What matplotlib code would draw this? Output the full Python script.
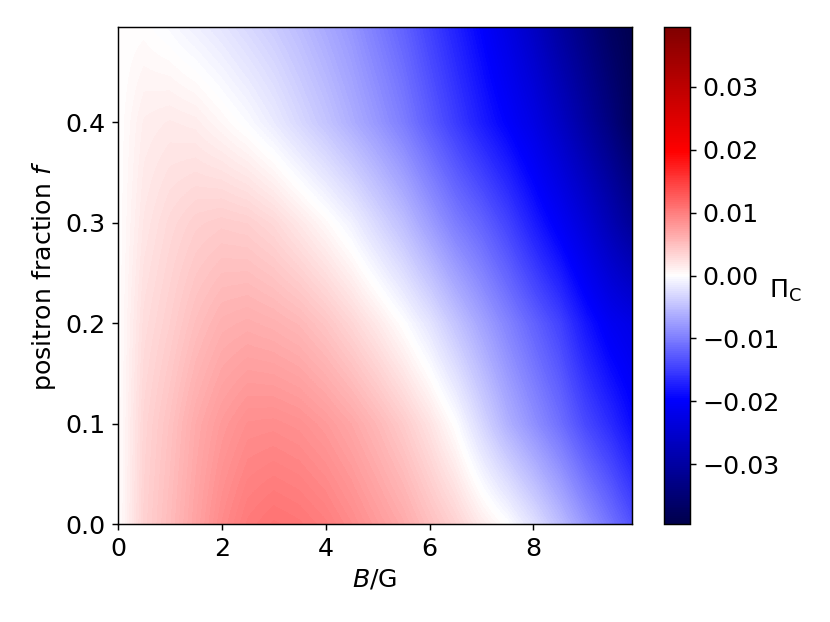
import numpy as np
import matplotlib
matplotlib.use("Agg")
import matplotlib.pyplot as plt

# magnetic field B (G), grid columns (uniform)
B_values = [0.0, 0.5, 1.0, 1.5, 2.0, 2.5, 3.0, 3.5, 4.0, 4.5, 5.0,
            5.5, 6.0, 6.5, 7.0, 7.5, 8.0, 8.5, 9.0, 9.5, 10.0]
# positron fraction f, grid rows (uniform)
f_values = [0.0, 0.1, 0.2, 0.3, 0.4, 0.5]

# circular polarisation Pi_C (rows follow f_values)
Pi_f000 = [0.0, 0.0035, 0.0052, 0.0071, 0.0090, 0.0103, 0.0109, 0.0106, 0.0100, 0.0090, 0.0078,
           0.0066, 0.0050, 0.0035, 0.0016, 0.0, -0.0023, -0.0050, -0.0080, -0.0109, -0.0140]
Pi_f010 = [0.0, 0.0032, 0.0047, 0.0065, 0.0078, 0.0087, 0.0088, 0.0085, 0.0078, 0.0068, 0.0055,
           0.0040, 0.0022, 0.0, -0.0030, -0.0060, -0.0085, -0.0110, -0.0140, -0.0165, -0.0195]
Pi_f020 = [0.0, 0.0026, 0.0037, 0.0050, 0.0060, 0.0063, 0.0060, 0.0055, 0.0045, 0.0032, 0.0017,
           0.0, -0.0020, -0.0045, -0.0070, -0.0095, -0.0120, -0.0145, -0.0180, -0.0210, -0.0228]
Pi_f030 = [0.0, 0.0019, 0.0029, 0.0036, 0.0039, 0.0037, 0.0030, 0.0018, 0.0005, -0.0010, -0.0030,
           -0.0050, -0.0075, -0.0100, -0.0120, -0.0145, -0.0175, -0.0205, -0.0240, -0.0280, -0.0320]
Pi_f040 = [0.0, 0.0013, 0.0016, 0.0014, 0.0006, -0.0003, -0.0015, -0.0030, -0.0045, -0.0062, -0.0080,
           -0.0100, -0.0125, -0.0150, -0.0175, -0.0198, -0.0225, -0.0260, -0.0300, -0.0340, -0.0385]
Pi_f050 = [0.0, 0.0001, -0.0005, -0.0013, -0.0021, -0.0031, -0.0041, -0.0053, -0.0067, -0.0082, -0.0102,
           -0.0122, -0.0147, -0.0172, -0.0198, -0.0228, -0.0263, -0.0303, -0.0338, -0.0373, -0.0395]

x_ticks = [0, 2, 4, 6, 8]
y_ticks = [0.0, 0.1, 0.2, 0.3, 0.4]
cb_ticks = [-0.03, -0.02, -0.01, 0.00, 0.01, 0.02, 0.03]
cb_ticklabels = ['\u22120.03', '\u22120.02', '\u22120.01', '0.00', '0.01', '0.02', '0.03']
x_max, y_max = 9.9, 0.495

Pi = np.array([Pi_f000, Pi_f010, Pi_f020, Pi_f030, Pi_f040, Pi_f050])
lim = np.abs(Pi).max()
dB = B_values[1] - B_values[0]
df = f_values[1] - f_values[0]

plt.rcParams['font.size'] = 14
fig = plt.figure(figsize=(830 / 130, 622 / 130), dpi=130)
ax = fig.add_axes([118 / 830, 98 / 622, 514 / 830, 497 / 622])
cax = fig.add_axes([664 / 830, 98 / 622, 26 / 830, 497 / 622])

im = ax.imshow(Pi, origin='lower', cmap='seismic', vmin=-lim, vmax=lim,
               interpolation='bilinear', interpolation_stage='data', aspect='auto',
               extent=[B_values[0] - dB / 2, B_values[-1] + dB / 2,
                       f_values[0] - df / 2, f_values[-1] + df / 2])
ax.set_xlim(0, x_max)
ax.set_ylim(0, y_max)
ax.set_xticks(x_ticks)
ax.set_yticks(y_ticks)
ax.set_xlabel(r'$B$/G')
ax.set_ylabel(r'positron fraction $f$')

cb = fig.colorbar(im, cax=cax, ticks=cb_ticks)
cb.ax.set_yticklabels(cb_ticklabels)
cb.ax.set_ylabel(r'$\Pi_{\rm C}$', rotation=0, ha='left', va='center')
cb.ax.yaxis.set_label_coords(4.05, 0.47)

fig.savefig('out.png', dpi=130)
